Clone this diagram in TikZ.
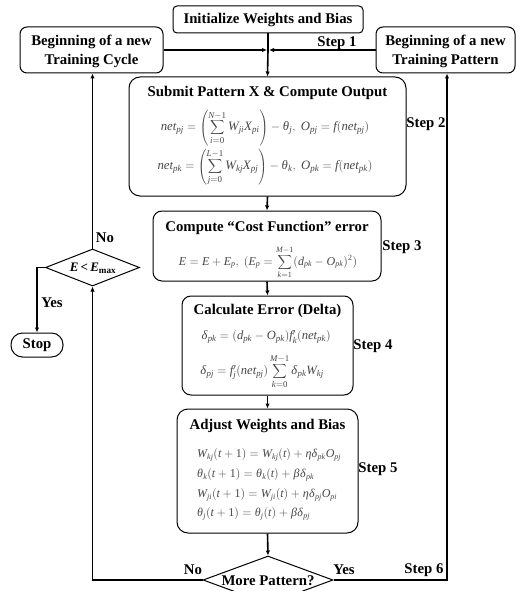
\documentclass[tikz,border=0pt]{standalone}
\usepackage{mathspec}
\setmainfont{Liberation Serif}
\setmathsfont(Digits,Latin,Greek)[Scale=1]{Liberation Serif}
\usetikzlibrary{shapes.geometric,arrows.meta}
\begin{document}
\begin{tikzpicture}[x=1pt,y=-1pt,
  box/.style={draw, line width=1pt, rounded corners=7pt, inner sep=0pt, fill=white},
  ttl/.style={font=\fontsize{14.8}{19}\selectfont\bfseries, align=center, inner sep=0pt},
  eqn/.style={font=\fontsize{12}{14}\selectfont, text=black!72, inner sep=0pt},
  eqb/.style={eqn, font=\fontsize{12.8}{15}\selectfont},
  conn/.style={line width=1.6pt},
  arr/.style={conn, -{Latex[length=5pt,width=4.5pt]}},
  dia/.style={draw, diamond, line width=1pt, inner sep=0pt, fill=white}]
\useasboundingbox (0,0) rectangle (516,591);

% boxes
\node[box, rounded corners=4pt, minimum width=190pt, minimum height=27pt] (init) at (268,19.5) {};
\node[ttl] (initT) at (268,19.5) {Initialize Weights and Bias};
\node[box, minimum width=143pt, minimum height=46pt] (cycle) at (91.5,50) {};
\node[ttl] (cycleT) at (91.5,51) {Beginning of a new\\Training Cycle};
\node[box, minimum width=139pt, minimum height=46pt] (pattern) at (445.5,50) {};
\node[ttl] (patternT) at (445.5,51) {Beginning of a new\\Training Pattern};

\node[box, rounded corners=11pt, minimum width=277pt, minimum height=119pt] (submit) at (267.5,136.5) {};
\node[ttl] (submitT) at (267.5,93) {Submit Pattern X \& Compute Output};
\node[eqb] (submitA) at (265,128) {$\displaystyle net_{pj}=\left(\sum_{i=0}^{N-1}W_{ji}X_{pi}\right)-\theta_j,\ O_{pj}=f(net_{pj})$};
\node[eqb] (submitB) at (265,167) {$\displaystyle net_{pk}=\left(\sum_{j=0}^{L-1}W_{kj}X_{pj}\right)-\theta_k,\ O_{pk}=f(net_{pk})$};

\node[box, rounded corners=9pt, minimum width=228pt, minimum height=70pt] (compute) at (267,246) {};
\node[ttl] (computeT) at (267,228) {Compute “Cost Function” error};
\node[eqn] (computeA) at (268,262) {$\displaystyle E=E+E_p,\ (E_p=\sum_{k=1}^{M-1}(d_{pk}-O_{pk})^2)$};

\node[box, rounded corners=9pt, minimum width=171pt, minimum height=99pt] (calc) at (267.5,345.5) {};
\node[ttl] (calcT) at (267.5,311) {Calculate Error (Delta)};
\node[eqn, font=\fontsize{12.6}{15}\selectfont] (calcA) at (266,337) {$\delta_{pk}=(d_{pk}-O_{pk})f_k'(net_{pk})$};
\node[eqn, font=\fontsize{12.6}{15}\selectfont] (calcB) at (262,372) {$\displaystyle \delta_{pj}=f_j'(net_{pj})\sum_{k=0}^{M-1}\delta_{pk}W_{kj}$};

\node[box, rounded corners=11pt, minimum width=181pt, minimum height=124pt] (adjust) at (267.5,471) {};
\node[ttl] (adjustT) at (267.5,426) {Adjust Weights and Bias};
\node[eqn, anchor=west] (adjA) at (197,455) {$W_{kj}(t+1)=W_{kj}(t)+\eta\delta_{pk}O_{pj}$};
\node[eqn, anchor=west] (adjB) at (197,475) {$\theta_k(t+1)=\theta_k(t)+\beta\delta_{pk}$};
\node[eqn, anchor=west] (adjC) at (197,495) {$W_{ji}(t+1)=W_{ji}(t)+\eta\delta_{pj}O_{pi}$};
\node[eqn, anchor=west] (adjD) at (197,514) {$\theta_j(t+1)=\theta_j(t)+\beta\delta_{pj}$};

% decisions
\node[dia, minimum width=94pt, minimum height=37pt] (emax) at (92.5,267.5) {};
\node[inner sep=0pt, font=\fontsize{13}{15}\selectfont] (emaxT) at (93,268) {\textbf{\textit{E}\,<\,\textit{E}}\textsubscript{\textbf{max}}};
\node[box, rounded corners=11.5pt, minimum width=52pt, minimum height=24pt] (stop) at (37,345) {};
\node[ttl] (stopT) at (37,345) {Stop};
\node[dia, minimum width=130pt, minimum height=48pt] (more) at (268,580) {};
\node[ttl] (moreT) at (268,581) {More Pattern?};

% connectors
\coordinate (j) at (268,50);
\draw[conn] (init.south) -- (j);
\draw[arr] (j) -- (submit.north);
\draw[arr, shorten >=1pt] (cycle.east) -- (j);
\draw[arr, shorten >=1pt] (pattern.west) -- (j);
\draw[arr] (submit.south) -- (compute.north);
\draw[arr] (compute.south) -- (calc.north);
\draw[arr] (calc.south) -- (adjust.north);
\draw[arr] (adjust.south) -- (more.north);

\coordinate (lc) at (92.5,580);
\coordinate (rc) at (447,580);
\coordinate (sc) at (37,267.5);
\draw[arr] (more.west) -- (lc) -- (emax.south);
\draw[arr] (emax.north) -- (emax.north |- cycle.south);
\draw[arr] (emax.west) -- (sc) -- (stop.north);
\draw[arr] (more.east) -- (rc) -- (rc |- pattern.south);

% labels
\node[ttl] (s1) at (337,43) {Step 1};
\node[ttl] (s2) at (426,124) {Step 2};
\node[ttl] (s3) at (402,247) {Step 3};
\node[ttl] (s4) at (373,346) {Step 4};
\node[ttl] (s5) at (378,469) {Step 5};
\node[ttl] (s6) at (424,570) {Step 6};
\node[ttl] (no1) at (105,238) {No};
\node[ttl] (yes1) at (52,303) {Yes};
\node[ttl] (no2) at (193,570) {No};
\node[ttl] (yes2) at (344,570) {Yes};
\end{tikzpicture}
\end{document}
